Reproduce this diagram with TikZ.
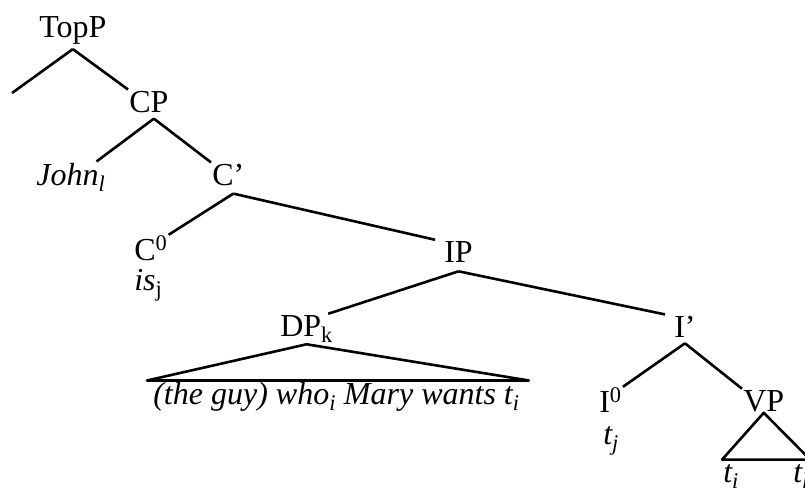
\documentclass[tikz,border=0pt]{standalone}
\usepackage{fontspec}
\setmainfont{Liberation Serif}
\usepackage{tikz}
\usetikzlibrary{positioning,calc}

\begin{document}
\begin{tikzpicture}[x=1pt,y=-1pt,line width=2.6pt,line join=round,
  cat node/.style={inner sep=0pt,anchor=base west,font=\fontsize{32}{38}\selectfont},
  word node/.style={cat node,font=\fontsize{32}{38}\selectfont\itshape}]

  \useasboundingbox (0,0) rectangle (805,490);

  \node[cat node] (topp) at (38,37) {TopP};
  \node[cat node] (cp) at (128,112) {CP};
  \node[word node] (john) at (35,185) {John\textsubscript{l}};
  \node[cat node] (cbar) at (211,185) {C’};
  \node[cat node] (c0) at (133,260) {C\textsuperscript{0}};
  \node[cat node] (is) at (133,290) {\textit{is}\textsubscript{j}};
  \node[cat node] (ip) at (443,262) {IP};
  \node[cat node] (dp) at (279,336) {DP\textsubscript{k}};
  \node[word node] (gap) at (152,404) {(the guy) who\textsubscript{i} Mary wants t\textsubscript{i}};
  \node[cat node] (ibar) at (673,337) {I’};
  \node[cat node] (i0) at (598,412) {I\textsuperscript{0}};
  \node[word node] (tj) at (602,444) {t\textsubscript{j}};
  \node[cat node] (vp) at (742,411) {VP};
  \node[word node] (ti) at (722,482) {t\textsubscript{i}};
  \node[word node] (tl) at (792,482) {t\textsubscript{l}};
  \coordinate (spec) at (12,93);

  \path
    ([yshift=-4pt]topp.south) edge (spec)
    ([yshift=-4pt]topp.south) edge (cp.north west)
    ([shift={(5pt,-5pt)}]cp.south) edge ([xshift=-10pt]john.north east)
    ([shift={(5pt,-5pt)}]cp.south) edge (cbar.north west)
    ([shift={(5pt,-7pt)}]cbar.south) edge (c0.north east)
    ([shift={(5pt,-7pt)}]cbar.south) edge ([xshift=-8pt]ip.north west)
    ([yshift=-8pt]ip.south) edge ([xshift=-6pt]dp.north east)
    ([yshift=-8pt]ip.south) edge ([xshift=-8pt]ibar.north west)
    ([yshift=-5pt]ibar.south) edge (i0.north east)
    ([yshift=-5pt]ibar.south) edge (vp.north west);

  % triangles over the unanalysed parts
  \draw (dp.south) -- ([xshift=-5pt]gap.north west) -- ([xshift=8pt]gap.north east) -- cycle;
  \draw (vp.south) -- ([yshift=3pt]ti.north west) -- ([yshift=3pt]tl.north east) -- cycle;
\end{tikzpicture}
\end{document}
